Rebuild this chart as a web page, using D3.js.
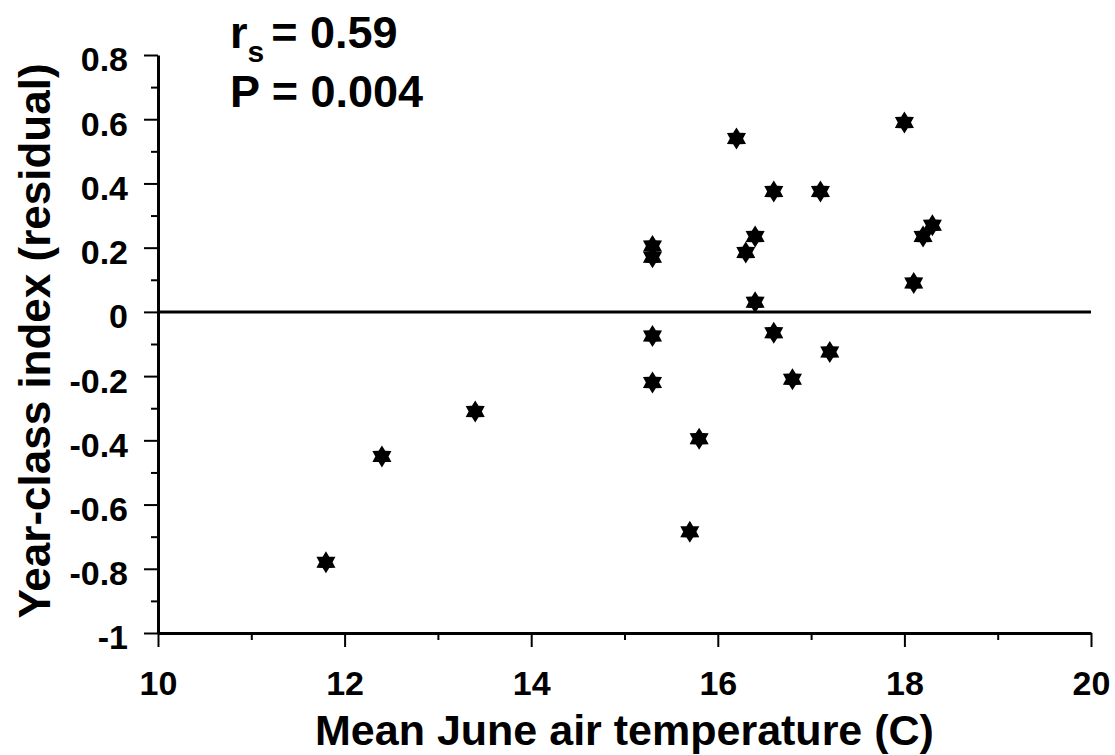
<!DOCTYPE html>
<html>
<head>
<meta charset="utf-8">
<script src="https://cdn.jsdelivr.net/npm/d3@7"></script>
<style>
  body { margin: 0; background: #fff; }
  svg { display: block; font-family: "Liberation Sans", Arial, sans-serif; font-weight: bold; }
</style>
</head>
<body>
<div id="chart"></div>
<script>
// June air temperature (C) and year-class index residual
const temps = [11.8, 12.4, 13.4, 15.3, 15.3, 15.3, 15.3, 15.7, 15.8, 16.2, 16.3,
               16.4, 16.4, 16.6, 16.6, 16.8, 17.1, 17.2, 18.0, 18.1, 18.2, 18.3]
const residuals = [-0.78, -0.45, -0.31, 0.205, 0.17, -0.075, -0.22, -0.685, -0.395, 0.54, 0.185,
                   0.235, 0.03, 0.375, -0.065, -0.21, 0.375, -0.125, 0.59, 0.09, 0.235, 0.27]

const xTicks = [10, 12, 14, 16, 18, 20]
const xMinorTicks = [11, 13, 15, 17, 19]
const yTicks = [-1, -0.8, -0.6, -0.4, -0.2, 0, 0.2, 0.4, 0.6, 0.8]
const yMinorTicks = [-0.9, -0.7, -0.5, -0.3, -0.1, 0.1, 0.3, 0.5, 0.7]

const width = 1115
const height = 755

const data = temps.map((t, i) => ({ t: t, r: residuals[i] }))

const xScale = d3.scaleLinear().domain([10, 20]).range([158, 1091])
const yScale = d3.scaleLinear().domain([-1, 0.8]).range([633, 55])

const svg = d3.select('#chart')
    .append('svg')
    .attr('width', width)
    .attr('height', height)

const yLabelFormat = d => String(+d.toFixed(1))

// x axis (minor ticks first, then major ticks with labels)
svg.append('g')
    .attr('transform', 'translate(0,' + yScale(-1) + ')')
    .call(d3.axisBottom(xScale).tickValues(xMinorTicks).tickSize(7).tickFormat(''))
    .call(g => g.select('.domain').remove())
    .call(g => g.selectAll('line').attr('stroke-width', 2))

const xAxis = svg.append('g')
    .attr('transform', 'translate(0,' + yScale(-1) + ')')
    .call(d3.axisBottom(xScale).tickValues(xTicks).tickSize(14).tickSizeOuter(0).tickPadding(24).tickFormat(d3.format('d')))
xAxis.select('.domain').attr('stroke-width', 3)
xAxis.selectAll('line').attr('stroke-width', 2)
xAxis.selectAll('text')
    .attr('font-size', 34)
    .attr('font-family', '"Liberation Sans", Arial, sans-serif')
    .attr('font-weight', 'bold')
    .attr('fill', '#000')

// y axis
svg.append('g')
    .attr('transform', 'translate(' + xScale(10) + ',0)')
    .call(d3.axisLeft(yScale).tickValues(yMinorTicks).tickSize(7).tickFormat(''))
    .call(g => g.select('.domain').remove())
    .call(g => g.selectAll('line').attr('stroke-width', 2))

const yAxis = svg.append('g')
    .attr('transform', 'translate(' + xScale(10) + ',0)')
    .call(d3.axisLeft(yScale).tickValues(yTicks).tickSize(14).tickSizeOuter(0).tickPadding(16).tickFormat(yLabelFormat))
yAxis.select('.domain').attr('stroke-width', 3)
yAxis.selectAll('line').attr('stroke-width', 2)
yAxis.selectAll('text')
    .attr('font-size', 34)
    .attr('font-family', '"Liberation Sans", Arial, sans-serif')
    .attr('font-weight', 'bold')
    .attr('fill', '#000')
    .attr('dy', '0.47em')

// zero reference line
svg.append('line')
    .attr('x1', xScale(10))
    .attr('x2', xScale(20))
    .attr('y1', yScale(0))
    .attr('y2', yScale(0))
    .attr('stroke', '#000')
    .attr('stroke-width', 3)

// six-pointed star symbol
const hexStar = {
    draw(context, size) {
        const R = Math.sqrt(size) / 2
        const r = R * 0.6
        for (let i = 0; i < 12; i++) {
            const a = -Math.PI / 2 + i * Math.PI / 6
            const rad = i % 2 === 0 ? R : r
            const px = rad * Math.cos(a)
            const py = rad * Math.sin(a)
            if (i === 0) context.moveTo(px, py)
            else context.lineTo(px, py)
        }
        context.closePath()
    }
}

svg.selectAll('.dot')
    .data(data)
    .enter()
    .append('path')
    .attr('class', 'dot')
    .attr('transform', d => 'translate(' + xScale(d.t) + ',' + yScale(d.r) + ')')
    .attr('d', d3.symbol().type(hexStar).size(22 * 22))
    .attr('fill', '#000')

// axis titles
svg.append('text')
    .attr('x', (xScale(10) + xScale(20)) / 2)
    .attr('y', 745)
    .attr('text-anchor', 'middle')
    .attr('font-size', 43)
    .text('Mean June air temperature (C)')

svg.append('text')
    .attr('transform', 'translate(50,341) rotate(-90)')
    .attr('text-anchor', 'middle')
    .attr('font-size', 44)
    .text('Year-class index (residual)')

// statistics annotation
const stat = svg.append('text')
    .attr('x', 230)
    .attr('y', 48)
    .attr('font-size', 45)
stat.append('tspan').text('r')
stat.append('tspan').attr('font-size', 30).attr('dy', 14).text('s')
stat.append('tspan').attr('dy', -14).attr('dx', 7).text('= 0.59')

svg.append('text')
    .attr('x', 230)
    .attr('y', 107)
    .attr('font-size', 45)
    .text('P = 0.004')
</script>
</body>
</html>
